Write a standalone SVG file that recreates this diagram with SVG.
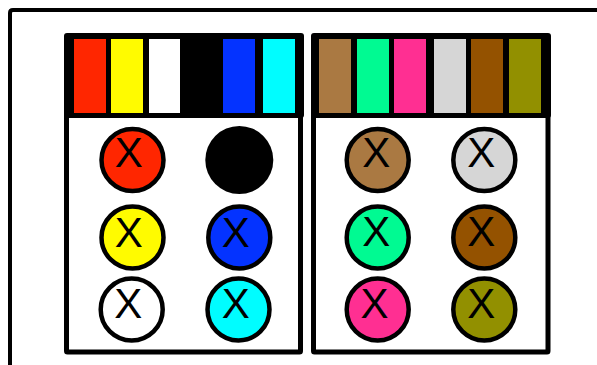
<svg xmlns="http://www.w3.org/2000/svg" width="597" height="365" viewBox="0 0 597 365">
<style>
.frame{fill:none;stroke:#000;stroke-width:4}
.body{fill:#fff;stroke:#000;stroke-width:5;stroke-linejoin:round}
.head{fill:#000}
.dot{stroke:#000;stroke-width:4.5}
.x{font-family:"Liberation Sans",Arial,sans-serif;font-size:42px;fill:#000;text-anchor:middle}
</style>
<rect width="597" height="365" fill="#fff"/>
<path class="frame" d="M10,367 V13 Q10,10 13,10 H599"/>
<g id="panel-left">
<rect class="body" x="66.5" y="112" width="234" height="240" rx="1"/>
<rect class="head" x="64" y="33" width="240" height="85" rx="3"/>
<rect x="74" y="39" width="32" height="74" fill="#FF2600"/>
<rect x="111" y="39" width="32" height="74" fill="#FFFB00"/>
<rect x="149" y="39" width="31" height="74" fill="#FFFFFF"/>
<rect x="186" y="39" width="32" height="74" fill="#000000"/>
<rect x="223" y="39" width="32" height="74" fill="#0433FF"/>
<rect x="263" y="39" width="32" height="74" fill="#00FDFF"/>
</g>
<g id="panel-right">
<rect class="body" x="313.5" y="112" width="234.5" height="240" rx="1"/>
<rect class="head" x="311" y="33" width="240" height="85" rx="3"/>
<rect x="319" y="39" width="32" height="74" fill="#AA7942"/>
<rect x="357" y="39" width="32" height="74" fill="#00FA92"/>
<rect x="394" y="39" width="32" height="74" fill="#FF2F92"/>
<rect x="434" y="39" width="32" height="74" fill="#D6D6D6"/>
<rect x="471" y="39" width="32" height="74" fill="#945200"/>
<rect x="509" y="39" width="32" height="74" fill="#929000"/>
</g>
<g id="btn-red"><circle class="dot" cx="132.5" cy="160" r="31" fill="#FF2600"/><text class="x" x="128.7" y="166.7">X</text></g>
<g id="btn-black"><circle cx="239.3" cy="160" r="34" fill="#000"/></g>
<g id="btn-yellow"><circle class="dot" cx="132.5" cy="237.5" r="31" fill="#FFFB00"/><text class="x" x="128.7" y="246.7">X</text></g>
<g id="btn-blue"><circle class="dot" cx="239.3" cy="237.5" r="31" fill="#0433FF"/><text class="x" x="235.7" y="246.7">X</text></g>
<g id="btn-white"><circle class="dot" cx="131.7" cy="309.5" r="31" fill="#FFFFFF"/><text class="x" x="128.3" y="318.3">X</text></g>
<g id="btn-cyan"><circle class="dot" cx="238.5" cy="309.5" r="31" fill="#00FDFF"/><text class="x" x="235.7" y="318.3">X</text></g>
<g id="btn-tan"><circle class="dot" cx="377.7" cy="160" r="31" fill="#AA7942"/><text class="x" x="376.2" y="166.7">X</text></g>
<g id="btn-silver"><circle class="dot" cx="484.3" cy="160" r="31" fill="#D6D6D6"/><text class="x" x="481.3" y="166.7">X</text></g>
<g id="btn-seafoam"><circle class="dot" cx="377.7" cy="237.5" r="31" fill="#00FA92"/><text class="x" x="376.2" y="246.3">X</text></g>
<g id="btn-mocha"><circle class="dot" cx="484.3" cy="237.5" r="31" fill="#945200"/><text class="x" x="481.3" y="246.3">X</text></g>
<g id="btn-strawberry"><circle class="dot" cx="377.7" cy="309.5" r="31" fill="#FF2F92"/><text class="x" x="374.5" y="318.3">X</text></g>
<g id="btn-asparagus"><circle class="dot" cx="484.3" cy="309.5" r="31" fill="#929000"/><text class="x" x="481.3" y="318.3">X</text></g>
<g id="connectors"/>
</svg>
